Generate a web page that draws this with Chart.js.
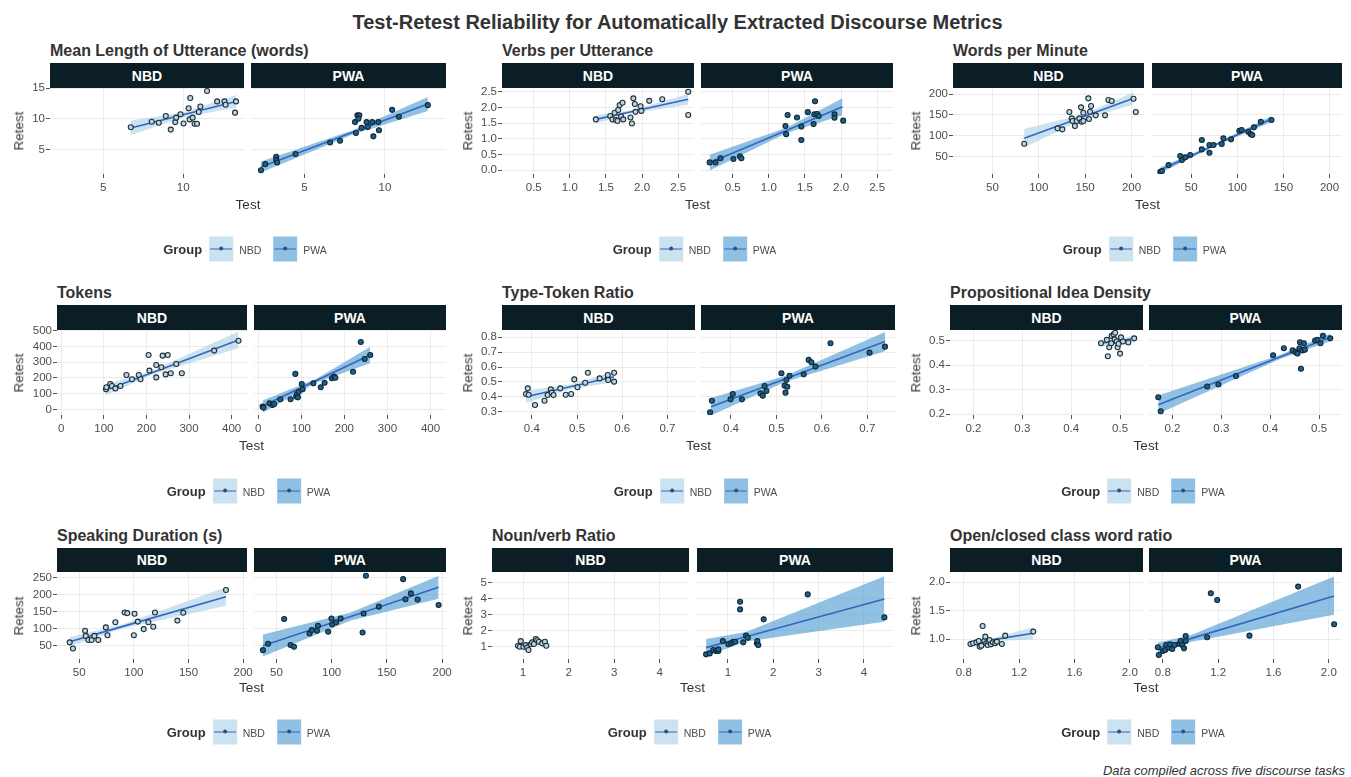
<!DOCTYPE html>
<html><head><meta charset="utf-8">
<script src="https://cdn.jsdelivr.net/npm/chart.js@4.4.1/dist/chart.umd.min.js"></script>
<style>
html,body{margin:0;padding:0;background:#fff;}
#root{position:relative;width:1351px;height:777px;overflow:hidden;font-family:'Liberation Sans',Arial,Helvetica,sans-serif;color:#333;}
.t{position:absolute;white-space:nowrap;line-height:1;}
.strip{position:absolute;background:#0b1e26;color:#fff;font-weight:bold;font-size:14px;display:flex;align-items:center;justify-content:center;}
canvas{position:absolute;}
.legend{position:absolute;display:flex;align-items:center;transform:translate(-50%,-50%);white-space:nowrap;}
.lg-title{font-weight:bold;font-size:13px;color:#333;margin-right:7px;}
.lg-lab{font-size:10.5px;color:#4d4d4d;margin-left:6px;}
.key{position:relative;width:24px;height:25px;}
.kl{position:absolute;left:1px;right:1px;top:11.5px;height:1.6px;background:#3465c2;}
.kd{position:absolute;left:10px;top:10.3px;width:4px;height:4px;border-radius:50%;background:#2b4f86;}
</style></head>
<body><div id="root"></div>
<script>
// ---------------- DATA ----------------
const MAIN_TITLE = "Test-Retest Reliability for Automatically Extracted Discourse Metrics";
const FOOTNOTE = "Data compiled across five discourse tasks";
const PANEL_TITLES = ["Mean Length of Utterance (words)", "Verbs per Utterance", "Words per Minute",
  "Tokens", "Type-Token Ratio", "Propositional Idea Density",
  "Speaking Duration (s)", "Noun/verb Ratio", "Open/closed class word ratio"];
const GROUPS = ["NBD", "PWA"];
const AXIS_X_TITLE = "Test", AXIS_Y_TITLE = "Retest", LEGEND_TITLE = "Group";

// fit rows: [test, fitted retest, lower band, upper band] at left end, centre, right end
const MLU_NBD_TEST   = [6.72,8.03,8.47,8.91,9.22,9.50,9.56,9.83,10.02,10.34,10.44,10.40,10.59,10.71,10.86,10.97,11.07,11.49,12.12,12.58,12.65,13.30,13.24];
const MLU_NBD_RETEST = [8.62,9.50,9.34,10.44,8.23,9.45,10.17,10.72,9.23,11.71,13.37,9.89,10.17,9.17,9.17,11.10,11.99,14.50,12.82,12.82,12.27,12.82,10.99];
const MLU_NBD_FIT    = [[6.72,8.5,7.3,9.7],[10.0,10.64,10.25,11.03],[13.3,12.8,11.8,13.85]];
const MLU_PWA_TEST   = [2.29,2.56,3.24,3.24,3.29,4.44,6.59,7.21,8.14,8.20,8.29,8.41,8.35,8.55,8.86,8.93,9.21,9.28,9.59,9.63,10.45,10.87,12.67];
const MLU_PWA_RETEST = [1.6,2.6,3.81,3.26,2.87,4.25,6.13,6.41,9.45,7.68,10.55,10.55,10.0,8.51,9.45,8.67,9.45,7.13,9.45,8.12,11.44,10.33,12.21];
const MLU_PWA_FIT    = [[2.29,2.15,1.25,3.05],[8.0,7.79,7.45,8.13],[12.67,12.4,11.25,13.55]];
const MLU_X_RANGE = [1.67,13.8], MLU_Y_RANGE = [1.0,15.0];
const MLU_X_LABELS = ["5","10"], MLU_Y_LABELS = ["5","10","15"];

const VPU_NBD_TEST   = [1.36,1.56,1.59,1.62,1.64,1.66,1.67,1.69,1.71,1.73,1.74,1.84,1.86,1.88,1.90,1.91,1.98,1.99,2.10,2.28,2.64,2.64];
const VPU_NBD_RETEST = [1.62,1.73,1.62,1.83,1.60,1.57,1.92,2.08,1.71,2.15,1.62,1.68,1.49,2.29,2.11,1.86,2.04,1.89,2.21,2.26,2.50,1.76];
const VPU_NBD_FIT    = [[1.36,1.62,1.49,1.75],[1.85,1.865,1.815,1.915],[2.64,2.26,2.09,2.43]];
const VPU_PWA_TEST   = [0.18,0.26,0.33,0.51,0.60,0.62,1.23,1.24,1.26,1.39,1.45,1.45,1.54,1.62,1.63,1.64,1.67,1.69,1.91,1.91,2.03];
const VPU_PWA_RETEST = [0.25,0.25,0.38,0.36,0.44,0.38,1.41,1.15,1.76,1.68,1.39,0.96,1.85,1.47,1.78,2.20,1.79,1.73,1.78,1.67,1.58];
const VPU_PWA_FIT    = [[0.18,0.24,-0.01,0.49],[1.25,1.275,1.19,1.36],[2.02,2.02,1.75,2.29]];
const VPU_X_RANGE = [0.06,2.72], VPU_Y_RANGE = [-0.12,2.62];
const VPU_X_LABELS = ["0.5","1.0","1.5","2.0","2.5"], VPU_Y_LABELS = ["0.0","0.5","1.0","1.5","2.0","2.5"];

const WPM_NBD_TEST   = [84.3,120.3,125.4,133,135.5,136.5,139,141,143.8,145.6,146.3,148.1,148.1,153.5,154.2,155.3,156.4,161.4,171.5,175.1,178.7,202.2,204.7];
const WPM_NBD_RETEST = [81,117.8,115.4,157,141.7,135.4,123.4,135.4,141.7,168.1,133.8,135.4,155.3,189.6,140.1,157.7,171.3,148.9,148.9,185.6,183.2,188.8,156.9];
const WPM_NBD_FIT    = [[84.3,94,72,116],[148,145.6,139.5,151.7],[202.2,189.6,175,204]];
const WPM_PWA_TEST   = [16.5,18.3,25.5,38.1,39.9,43.5,48.9,61.5,61.5,69.8,69.8,74.1,83.1,84.9,93.2,102.2,104.7,111.9,114.4,116.2,118,125.5,137];
const WPM_PWA_RETEST = [14,15.6,30,51.6,42,48.4,54,89.9,67.5,59.5,77.9,77.9,80.3,93.9,91.5,112.2,113.8,109.8,104.2,101.8,120.2,133.8,137.8];
const WPM_PWA_FIT    = [[16.5,18,11,25],[75,77.2,74.7,79.7],[137,140,133,147]];
const WPM_X_RANGE = [7.5,213.5], WPM_Y_RANGE = [8.6,214.4];
const WPM_X_LABELS = ["50","100","150","200"], WPM_Y_LABELS = ["50","100","150","200"];

const TOK_NBD_TEST   = [105,106,115,119,127,139,153,166,182,186,205,207,223,223,235,238,245,250,257,270,283,359,416];
const TOK_NBD_RETEST = [127,140,161,148,133,148,218,191,218,191,345,246,203,282,267,341,222,345,229,288,229,373,436];
const TOK_NBD_FIT    = [[105,123,88,160],[210,230,218,242],[416,441,388,494]];
const TOK_PWA_TEST   = [10,12,26,33,37,51,75,86,88,90,92,94,101,103,128,145,154,171,176,179,220,238,247,260];
const TOK_PWA_RETEST = [17,11,38,28,34,64,64,225,81,97,76,112,161,127,165,140,169,197,208,201,239,428,320,345];
const TOK_PWA_FIT    = [[10,21,-22,56],[135,183,171,195],[260,345,292,398]];
const TOK_X_RANGE = [-10,436], TOK_Y_RANGE = [-36,504];
const TOK_X_LABELS = ["0","100","200","300","400"], TOK_Y_LABELS = ["0","100","200","300","400","500"];

const TTR_NBD_TEST   = [0.387,0.391,0.393,0.407,0.428,0.435,0.442,0.444,0.448,0.463,0.475,0.487,0.494,0.501,0.518,0.524,0.550,0.568,0.568,0.569,0.582,0.582];
const TTR_NBD_RETEST = [0.419,0.457,0.414,0.345,0.374,0.412,0.45,0.428,0.412,0.457,0.414,0.419,0.517,0.464,0.495,0.562,0.524,0.524,0.547,0.513,0.562,0.502];
const TTR_NBD_FIT    = [[0.387,0.401,0.36,0.442],[0.485,0.468,0.453,0.483],[0.582,0.535,0.498,0.572]];
const TTR_PWA_TEST   = [0.354,0.358,0.399,0.404,0.424,0.465,0.470,0.474,0.478,0.511,0.518,0.520,0.522,0.524,0.529,0.560,0.571,0.577,0.586,0.619,0.705,0.739];
const TTR_PWA_RETEST = [0.296,0.374,0.383,0.419,0.383,0.423,0.408,0.473,0.439,0.558,0.475,0.428,0.513,0.468,0.542,0.551,0.648,0.632,0.603,0.760,0.697,0.737];
const TTR_PWA_FIT    = [[0.356,0.334,0.275,0.393],[0.52,0.521,0.501,0.541],[0.739,0.771,0.706,0.836]];
const TTR_X_RANGE = [0.334,0.761], TTR_Y_RANGE = [0.278,0.849];
const TTR_X_LABELS = ["0.4","0.5","0.6","0.7"], TTR_Y_LABELS = ["0.3","0.4","0.5","0.6","0.7","0.8"];

const PID_NBD_TEST   = [0.461,0.473,0.475,0.478,0.482,0.483,0.487,0.489,0.490,0.493,0.495,0.497,0.500,0.502,0.506,0.517,0.529];
const PID_NBD_RETEST = [0.489,0.503,0.436,0.473,0.489,0.519,0.525,0.505,0.532,0.496,0.473,0.487,0.447,0.513,0.496,0.492,0.509];
const PID_NBD_FIT    = [[0.461,0.489,0.475,0.503],[0.495,0.4985,0.4925,0.5045],[0.529,0.508,0.494,0.522]];
const PID_PWA_TEST   = [0.171,0.176,0.271,0.294,0.330,0.406,0.428,0.446,0.452,0.456,0.460,0.461,0.463,0.466,0.469,0.471,0.492,0.497,0.503,0.508,0.523];
const PID_PWA_RETEST = [0.269,0.212,0.313,0.321,0.356,0.440,0.469,0.460,0.452,0.447,0.469,0.493,0.385,0.460,0.489,0.463,0.500,0.503,0.489,0.519,0.509];
const PID_PWA_FIT    = [[0.171,0.239,0.202,0.276],[0.42,0.433,0.425,0.441],[0.523,0.513,0.497,0.529]];
const PID_X_RANGE = [0.152,0.547], PID_Y_RANGE = [0.197,0.543];
const PID_X_LABELS = ["0.2","0.3","0.4","0.5"], PID_Y_LABELS = ["0.2","0.3","0.4","0.5"];

const DUR_NBD_TEST   = [41.3,44.3,55.4,56,58.4,61.4,63.9,67.5,74.4,75.9,83.1,91.6,94,100,100.6,103.6,109,113.3,117.8,119.3,139.8,145.2,184.3];
const DUR_NBD_RETEST = [60,42,94,79,67,67,79,67,104,81,119,148,146,81,144,121,99,119,106,148,124,147,214];
const DUR_NBD_FIT    = [[41.3,62,48,76],[90,107,101,113],[184.3,194,168,222]];
const DUR_PWA_TEST   = [37.8,42.4,57,62.8,65.9,80,82.1,86.7,87.6,96.8,99.8,100.5,104.1,108.1,128,128.9,131,142.7,164.7,166.8,171.7,177.8,196.8];
const DUR_PWA_RETEST = [37,56,128.5,52,47,86,96,94,109,91,130,113,119,130,89,145,256,165,246,187,204,186,170];
const DUR_PWA_FIT    = [[37.8,50,18,83],[117.3,136,124,148],[196.8,222,188,256]];
const DUR_X_RANGE = [29.7,203.5], DUR_Y_RANGE = [11,267];
const DUR_X_LABELS = ["50","100","150","200"], DUR_Y_LABELS = ["50","100","150","200","250"];

const NVR_NBD_TEST   = [0.89,0.93,0.95,1.01,1.06,1.09,1.12,1.17,1.20,1.24,1.28,1.31,1.35,1.42,1.48,1.51];
const NVR_NBD_RETEST = [1.06,1.0,1.35,1.0,1.1,0.94,0.79,1.15,1.27,1.17,1.48,1.40,1.31,1.21,1.31,1.06];
const NVR_NBD_FIT    = [[0.89,1.05,0.88,1.22],[1.2,1.175,1.11,1.24],[1.51,1.3,1.13,1.47]];
const NVR_PWA_TEST   = [0.52,0.60,0.68,0.74,0.79,0.79,0.89,1.01,1.07,1.12,1.16,1.27,1.27,1.34,1.40,1.44,1.64,1.65,1.67,1.79,2.76,4.45];
const NVR_PWA_RETEST = [0.52,0.58,0.79,0.73,0.73,0.83,1.35,1.15,1.21,1.31,1.31,3.81,3.33,1.27,1.69,1.56,1.21,1.35,1.1,2.71,4.27,2.83];
const NVR_PWA_FIT    = [[0.52,0.94,0.4,1.48],[1.4,1.62,1.32,1.92],[4.45,3.98,2.56,5.4]];
const NVR_X_RANGE = [0.32,4.64], NVR_Y_RANGE = [0.23,5.67];
const NVR_X_LABELS = ["1","2","3","4"], NVR_Y_LABELS = ["1","2","3","4","5"];

const OCR_NBD_TEST   = [0.848,0.867,0.891,0.908,0.915,0.927,0.936,0.948,0.955,0.962,0.972,0.979,0.986,0.996,1.010,1.027,1.039,1.075,1.099,1.302];
const OCR_NBD_RETEST = [0.918,0.930,0.947,0.971,0.871,0.889,1.234,0.971,1.047,0.930,0.901,0.959,0.988,0.912,0.947,0.930,0.959,0.918,1.064,1.135];
const OCR_NBD_FIT    = [[0.848,0.93,0.9,0.96],[0.97,0.977,0.962,0.992],[1.302,1.105,1.0,1.21]];
const OCR_PWA_TEST   = [0.764,0.771,0.80,0.817,0.824,0.844,0.853,0.868,0.885,0.921,0.929,0.941,0.953,0.965,0.965,1.12,1.147,1.193,1.426,1.778,2.038];
const OCR_PWA_RETEST = [0.86,0.725,0.795,0.813,0.90,0.854,0.912,0.83,0.90,0.918,0.971,0.90,0.842,1.058,0.971,1.035,1.807,1.690,1.064,1.924,1.263];
const OCR_PWA_FIT    = [[0.764,0.842,0.74,0.945],[1.0,1.012,0.955,1.07],[2.038,1.76,1.43,2.1]];
const OCR_X_RANGE = [0.70,2.095], OCR_Y_RANGE = [0.655,2.18];
const OCR_X_LABELS = ["0.8","1.2","1.6","2.0"], OCR_Y_LABELS = ["1.0","1.5","2.0"];

// ---------------- LAYOUT & STYLE ----------------
const FONT = "'Liberation Sans', Arial, Helvetica, sans-serif";
const ROWS = [
  {stripTop:63, plotTop:88, plotBottom:174, titleY:51, testY:205, legendY:249},
  {stripTop:305, plotTop:330, plotBottom:415, titleY:293, testY:446, legendY:491},
  {stripTop:548, plotTop:572, plotBottom:659, titleY:536, testY:688, legendY:732}
];
const RETEST_X = [19, 468, 916];
const FACETS = [
  {nbd:[50,244], pwa:[251,446]}, {nbd:[502,694], pwa:[701,893]}, {nbd:[953,1144], pwa:[1152,1342]},
  {nbd:[57,247], pwa:[254,446]}, {nbd:[502,695], pwa:[701,895]}, {nbd:[950,1143], pwa:[1149,1342]},
  {nbd:[57,247], pwa:[254,446]}, {nbd:[492,689], pwa:[697,893]}, {nbd:[950,1143], pwa:[1149,1342]}
];
const STYLE = {
  NBD: {band:'rgba(160,203,228,0.55)', fill:'#bcd6e4', stroke:'#1e2f38'},
  PWA: {band:'rgba(70,152,208,0.6)', fill:'#215f86', stroke:'#0e2a3a'},
  line:'#3465c2', grid:'#ebebeb', tick:'#555', tickText:'#4d4d4d'
};

const PANELS = [
  {nbd:[MLU_NBD_TEST,MLU_NBD_RETEST,MLU_NBD_FIT], pwa:[MLU_PWA_TEST,MLU_PWA_RETEST,MLU_PWA_FIT], xr:MLU_X_RANGE, yr:MLU_Y_RANGE, xl:MLU_X_LABELS, yl:MLU_Y_LABELS},
  {nbd:[VPU_NBD_TEST,VPU_NBD_RETEST,VPU_NBD_FIT], pwa:[VPU_PWA_TEST,VPU_PWA_RETEST,VPU_PWA_FIT], xr:VPU_X_RANGE, yr:VPU_Y_RANGE, xl:VPU_X_LABELS, yl:VPU_Y_LABELS},
  {nbd:[WPM_NBD_TEST,WPM_NBD_RETEST,WPM_NBD_FIT], pwa:[WPM_PWA_TEST,WPM_PWA_RETEST,WPM_PWA_FIT], xr:WPM_X_RANGE, yr:WPM_Y_RANGE, xl:WPM_X_LABELS, yl:WPM_Y_LABELS},
  {nbd:[TOK_NBD_TEST,TOK_NBD_RETEST,TOK_NBD_FIT], pwa:[TOK_PWA_TEST,TOK_PWA_RETEST,TOK_PWA_FIT], xr:TOK_X_RANGE, yr:TOK_Y_RANGE, xl:TOK_X_LABELS, yl:TOK_Y_LABELS},
  {nbd:[TTR_NBD_TEST,TTR_NBD_RETEST,TTR_NBD_FIT], pwa:[TTR_PWA_TEST,TTR_PWA_RETEST,TTR_PWA_FIT], xr:TTR_X_RANGE, yr:TTR_Y_RANGE, xl:TTR_X_LABELS, yl:TTR_Y_LABELS},
  {nbd:[PID_NBD_TEST,PID_NBD_RETEST,PID_NBD_FIT], pwa:[PID_PWA_TEST,PID_PWA_RETEST,PID_PWA_FIT], xr:PID_X_RANGE, yr:PID_Y_RANGE, xl:PID_X_LABELS, yl:PID_Y_LABELS},
  {nbd:[DUR_NBD_TEST,DUR_NBD_RETEST,DUR_NBD_FIT], pwa:[DUR_PWA_TEST,DUR_PWA_RETEST,DUR_PWA_FIT], xr:DUR_X_RANGE, yr:DUR_Y_RANGE, xl:DUR_X_LABELS, yl:DUR_Y_LABELS},
  {nbd:[NVR_NBD_TEST,NVR_NBD_RETEST,NVR_NBD_FIT], pwa:[NVR_PWA_TEST,NVR_PWA_RETEST,NVR_PWA_FIT], xr:NVR_X_RANGE, yr:NVR_Y_RANGE, xl:NVR_X_LABELS, yl:NVR_Y_LABELS},
  {nbd:[OCR_NBD_TEST,OCR_NBD_RETEST,OCR_NBD_FIT], pwa:[OCR_PWA_TEST,OCR_PWA_RETEST,OCR_PWA_FIT], xr:OCR_X_RANGE, yr:OCR_Y_RANGE, xl:OCR_X_LABELS, yl:OCR_Y_LABELS}
];

// ---------------- RENDER ----------------
const root = document.getElementById('root');
function txt(s, x, y, o) {
  const d = document.createElement('div');
  d.className = 't';
  d.textContent = s;
  d.style.left = x + 'px'; d.style.top = y + 'px';
  d.style.fontSize = (o.size || 12) + 'px';
  if (o.bold) d.style.fontWeight = 'bold';
  if (o.italic) d.style.fontStyle = 'italic';
  d.style.color = o.color || '#333';
  const tx = o.align === 'left' ? '0' : (o.align === 'right' ? '-100%' : '-50%');
  d.style.transform = 'translate(' + tx + ',-50%)' + (o.rotate ? ' rotate(-90deg)' : '');
  root.appendChild(d);
}

txt(MAIN_TITLE, 677.5, 22, {size:20, bold:true, color:'#333'});
txt(FOOTNOTE, 1345, 770, {size:13, italic:true, align:'right', color:'#333'});

function facetChart(panel, gi, L, R, row) {
  const isNBD = gi === 0;
  const grp = GROUPS[gi];
  const [tx, ty, fit] = isNBD ? panel.nbd : panel.pwa;
  const st = STYLE[grp];
  const ya = isNBD ? 40 : 0, xa = 26, padL = 2, padT = 10, padR = 14;
  const W = R - L, H = row.plotBottom - row.plotTop;
  const cw = W + ya + padL + padR, ch = H + xa + padT;
  const cv = document.createElement('canvas');
  cv.width = cw; cv.height = ch;
  cv.style.width = cw + 'px'; cv.style.height = ch + 'px';
  cv.style.left = (L - ya - padL) + 'px';
  cv.style.top = (row.plotTop - padT) + 'px';
  root.appendChild(cv);
  const xv = panel.xl.map(Number), yv = panel.yl.map(Number);
  const tickFont = {family: FONT, size: 11.5};
  new Chart(cv.getContext('2d'), {
    type: 'line',
    data: {datasets: [
      {data: fit.map(f => ({x:f[0], y:f[3]})), borderWidth:0, pointRadius:0, fill:'+1', backgroundColor:st.band, order:3},
      {data: fit.map(f => ({x:f[0], y:f[2]})), borderWidth:0, pointRadius:0, fill:false, order:3},
      {data: fit.map(f => ({x:f[0], y:f[1]})), borderColor:STYLE.line, borderWidth:1.6, pointRadius:0, fill:false, order:2},
      {data: tx.map((v,i) => ({x:v, y:ty[i]})), showLine:false, pointRadius:2.5, pointBorderWidth:1.1,
       pointBackgroundColor:st.fill, pointBorderColor:st.stroke, order:1}
    ]},
    options: {
      responsive:false, animation:false, devicePixelRatio:1, events:[],
      layout:{padding:{left:padL, top:padT, right:padR, bottom:0}, autoPadding:false},
      plugins:{legend:{display:false}, tooltip:{enabled:false}, title:{display:false}},
      scales: {
        x: {type:'linear', min:panel.xr[0], max:panel.xr[1], bounds:'data',
            afterBuildTicks: s => { s.ticks = xv.map(v => ({value:v})); },
            afterFit: s => { s.height = xa; },
            grid:{color:STYLE.grid, lineWidth:1, drawTicks:true, tickLength:4, tickColor:STYLE.tick, tickWidth:1},
            border:{display:false},
            ticks:{autoSkip:false, maxRotation:0, minRotation:0, padding:3, color:STYLE.tickText, font:tickFont,
                   callback:(v,i) => panel.xl[i]}},
        y: {type:'linear', min:panel.yr[0], max:panel.yr[1], bounds:'data',
            afterBuildTicks: s => { s.ticks = yv.map(v => ({value:v})); },
            afterFit: s => { s.width = ya; },
            grid:{color:STYLE.grid, lineWidth:1, drawTicks:isNBD, tickLength:4, tickColor:STYLE.tick, tickWidth:1},
            border:{display:false},
            ticks:{display:isNBD, autoSkip:false, padding:1, color:STYLE.tickText, font:tickFont,
                   callback:(v,i) => panel.yl[i]}}
      }
    }
  });
}

PANELS.forEach((panel, pi) => {
  const row = ROWS[Math.floor(pi / 3)];
  const col = pi % 3;
  const fl = FACETS[pi];
  txt(PANEL_TITLES[pi], fl.nbd[0], row.titleY, {size:16, bold:true, align:'left', color:'#333'});
  [fl.nbd, fl.pwa].forEach((ext, gi) => {
    const s = document.createElement('div');
    s.className = 'strip';
    s.style.left = ext[0] + 'px'; s.style.width = (ext[1] - ext[0]) + 'px';
    s.style.top = row.stripTop + 'px'; s.style.height = (row.plotTop - row.stripTop) + 'px';
    s.textContent = GROUPS[gi];
    root.appendChild(s);
    facetChart(panel, gi, ext[0], ext[1], row);
  });
  const cx = (fl.nbd[0] + fl.pwa[1]) / 2;
  txt(AXIS_X_TITLE, cx, row.testY, {size:13.5, color:'#333'});
  txt(AXIS_Y_TITLE, RETEST_X[col], (row.plotTop + row.plotBottom) / 2, {size:13.5, color:'#333', rotate:true});
  // legend
  const lg = document.createElement('div');
  lg.className = 'legend';
  lg.style.left = (cx - 3) + 'px'; lg.style.top = row.legendY + 'px';
  let html = '<span class="lg-title">' + LEGEND_TITLE + '</span>';
  GROUPS.forEach((g, gi) => {
    html += '<div class="key" style="background:' + STYLE[g].band + (gi ? ';margin-left:12px' : '') + '"><div class="kl"></div><div class="kd"></div></div>';
    html += '<span class="lg-lab">' + g + '</span>';
  });
  lg.innerHTML = html;
  root.appendChild(lg);
});
</script>
</body></html>
